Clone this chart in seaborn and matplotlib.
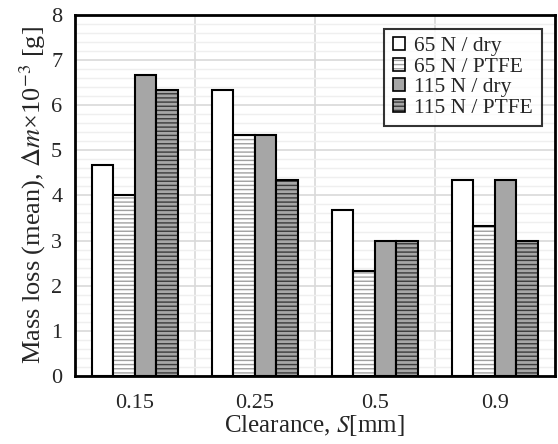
import numpy as np
import pandas as pd
import matplotlib
matplotlib.use("Agg")
import matplotlib.pyplot as plt
import matplotlib.colors as mcolors
from matplotlib.ticker import MultipleLocator, FixedLocator
import seaborn as sns

categories = ["0.15", "0.25", "0.5", "0.9"]
series = ["65 N / dry", "65 N / PTFE", "115 N / dry", "115 N / PTFE"]
v_65_dry = [4.67, 6.33, 3.67, 4.33]
v_65_ptfe = [4.0, 5.33, 2.33, 3.33]
v_115_dry = [6.67, 5.33, 3.0, 4.33]
v_115_ptfe = [6.33, 4.33, 3.0, 3.0]
yticks = [0, 1, 2, 3, 4, 5, 6, 7, 8]

rows = []
for s, vals in zip(series, [v_65_dry, v_65_ptfe, v_115_dry, v_115_ptfe]):
    for c, v in zip(categories, vals):
        rows.append({"Clearance": c, "Series": s, "Mass": v})
df = pd.DataFrame(rows)

sns.set_theme(style="white")
plt.rcParams["font.family"] = ["Liberation Serif", "DejaVu Serif"]
plt.rcParams["mathtext.fontset"] = "stix"
plt.rcParams["hatch.linewidth"] = 1.0

fig = plt.figure(figsize=(5.58, 4.44), dpi=100)
ax = fig.add_axes([0.134, 0.153, 0.8602, 0.814])

sns.barplot(data=df, x="Clearance", y="Mass", hue="Series", order=categories,
            hue_order=series, width=0.72, gap=0, ax=ax, errorbar=None,
            legend=True)

faces = ["white", "white", "#a6a6a6", "#a6a6a6"]
hatches = [None, "----", None, "----"]
hcols = [None, "#a0a0a0", None, "#3a3a3a"]


def style_patch(p, fc, h, hc):
    p.set_facecolor(fc)
    p.set_edgecolor("black")
    p.set_linewidth(1.5)
    if h:
        p.set_hatch(h)
        try:
            p.set_hatchcolor(hc)
        except Exception:
            p._hatch_color = mcolors.to_rgba(hc)


for cont, fc, h, hc in zip(ax.containers, faces, hatches, hcols):
    for p in cont.patches:
        style_patch(p, fc, h, hc)

ax.set_ylim(0, 8)
ax.set_xlim(-0.5, 3.5)
ax.yaxis.set_major_locator(FixedLocator(yticks))
ax.yaxis.set_minor_locator(MultipleLocator(0.2))
ax.xaxis.set_minor_locator(FixedLocator([0.5, 1.5, 2.5]))
ax.set_axisbelow(True)
ax.grid(True, axis="y", which="major", color="#d9d9d9", lw=1.2)
ax.grid(True, axis="y", which="minor", color="#efefef", lw=1.0)
ax.grid(True, axis="x", which="minor", color="#d9d9d9", lw=1.2)
ax.grid(False, axis="x", which="major")
ax.tick_params(axis="both", which="both", length=0, labelsize=16)
ax.tick_params(axis="y", pad=9)
ax.tick_params(axis="x", pad=13)
for s in ["left", "bottom", "top", "right"]:
    ax.spines[s].set_visible(True)
    ax.spines[s].set_color("black")
    ax.spines[s].set_linewidth(2)

ax.set_xlabel(r"Clearance, $S$[mm]", fontsize=18, labelpad=0)
ax.set_ylabel(r"Mass loss (mean), $\Delta m$×10$^{-3}$ [g]", fontsize=19, labelpad=2)

handles, labels = ax.get_legend_handles_labels()
for hd, fc, h, hc in zip(handles, faces, hatches, hcols):
    style_patch(hd, fc, h, hc)
    hd.set_linewidth(1.2)
leg = ax.legend(handles, labels, loc="upper right", bbox_to_anchor=(0.973, 0.961),
                fontsize=15.5, frameon=True, fancybox=False, edgecolor="black",
                handlelength=0.55, handleheight=0.55, handletextpad=0.45,
                labelspacing=0.06, borderpad=0.4, borderaxespad=0)
leg.get_frame().set_linewidth(1.5)

fig.savefig("out.png", dpi=100)
